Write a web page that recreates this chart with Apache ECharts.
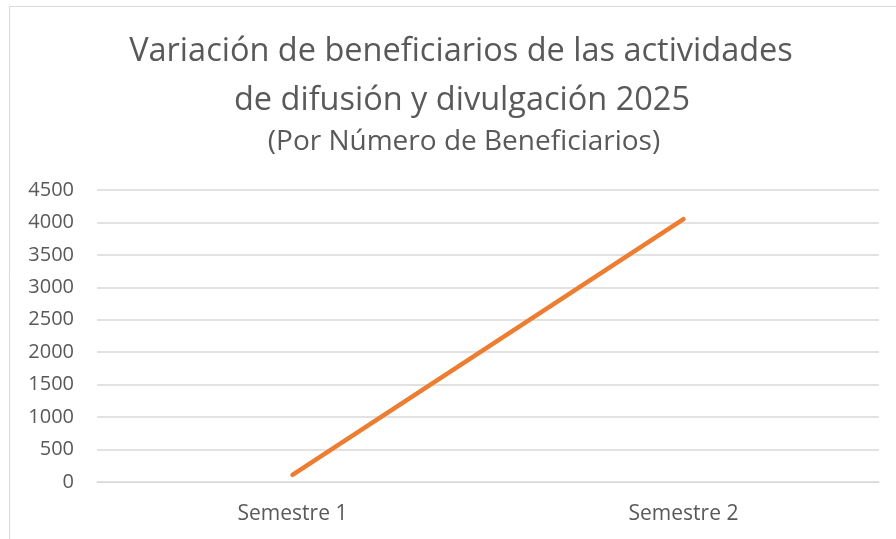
<!DOCTYPE html>
<html lang="es">
<head>
<meta charset="utf-8" />
<title>Variación de beneficiarios</title>
<script src="https://cdn.jsdelivr.net/npm/echarts@6/dist/echarts.min.js"></script>
<style>
  html, body { margin: 0; padding: 0; background: #fff; }
  #chart { width: 896px; height: 539px; }
</style>
</head>
<body>
<div id="chart"></div>
<script>
// datos del gráfico
var categorias = ['Semestre 1', 'Semestre 2'];
var beneficiarios = [110, 4050];
var titulo1 = 'Variación de beneficiarios de las actividades';
var titulo2 = 'de difusión y divulgación 2025';
var subtitulo = '(Por Número de Beneficiarios)';

var myChart = echarts.init(document.getElementById('chart'));
var fuente = 'Open Sans';
var gris = '#595959';

var option = {
    backgroundColor: '#ffffff',
    animation: false,
    title: [
        { text: titulo1, left: 456, textAlign: 'center', top: 30, textStyle: { fontFamily: fuente, fontSize: 32.5, fontWeight: 'normal', color: gris } },
        { text: titulo2, left: 457, textAlign: 'center', top: 79, textStyle: { fontFamily: fuente, fontSize: 32.5, fontWeight: 'normal', color: gris } },
        { text: subtitulo, left: 459, textAlign: 'center', top: 123, textStyle: { fontFamily: fuente, fontSize: 28, fontWeight: 'normal', color: gris } }
    ],
    graphic: [{
        type: 'rect',
        shape: { x: 9.5, y: 6.5, width: 900, height: 600 },
        style: { fill: 'none', stroke: '#d9d9d9', lineWidth: 1 },
        silent: true
    }],
    grid: { left: 97, right: 17, top: 190, bottom: 57, containLabel: false },
    xAxis: {
        type: 'category',
        data: categorias,
        boundaryGap: true,
        axisLine: { lineStyle: { color: '#d9d9d9' } },
        axisTick: { show: false },
        axisLabel: { color: gris, fontFamily: fuente, fontSize: 21, margin: 22 }
    },
    yAxis: {
        type: 'value',
        min: 0,
        max: 4500,
        interval: 500,
        axisLine: { show: false },
        axisTick: { show: false },
        axisLabel: {
            color: gris, fontFamily: fuente, fontSize: 20, margin: 23,
            formatter: function (v) { return String(v); }
        },
        splitLine: { lineStyle: { color: '#d9d9d9', width: 1.5 } }
    },
    series: [{
        name: 'Beneficiarios',
        type: 'line',
        data: beneficiarios,
        showSymbol: false,
        lineStyle: { color: '#ED7D31', width: 4.5, cap: 'round' },
        itemStyle: { color: '#ED7D31' }
    }]
};
myChart.setOption(option);
</script>
</body>
</html>
